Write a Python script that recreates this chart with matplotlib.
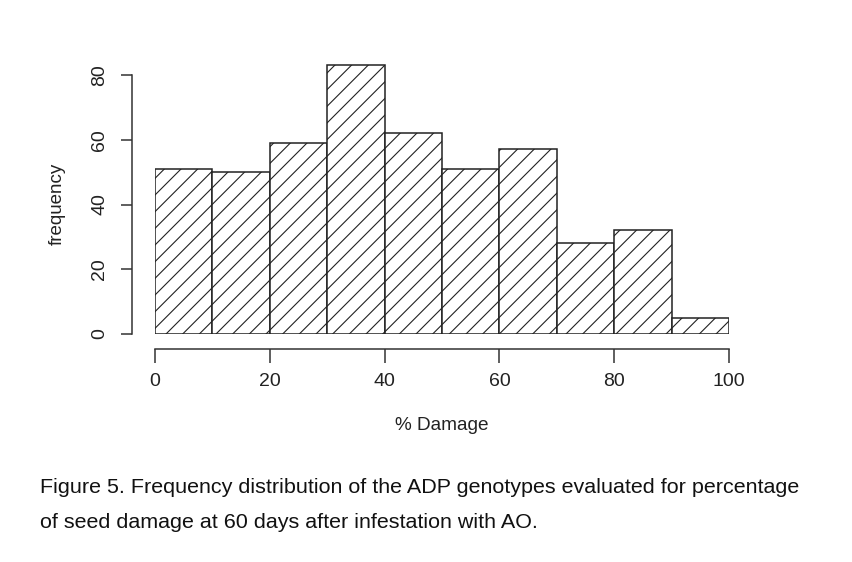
import matplotlib
matplotlib.use("Agg")
import matplotlib.pyplot as plt

plt.rcParams['font.family'] = ['Liberation Sans', 'DejaVu Sans']
plt.rcParams['hatch.linewidth'] = 0.8

bin_edges = [0, 10, 20, 30, 40, 50, 60, 70, 80, 90, 100]
counts = [51, 50, 59, 83, 62, 51, 57, 28, 32, 5]
x_ticks = [0, 20, 40, 60, 80, 100]
y_ticks = [0, 20, 40, 60, 80]
x_label = "% Damage"
y_label = "frequency"
caption_lines = [
    "Figure 5. Frequency distribution of the ADP genotypes evaluated for percentage",
    "of seed damage at 60 days after infestation with AO.",
]

W, H = 852, 562
fig = plt.figure(figsize=(W / 100, H / 100), dpi=100)

# pixel mapping
x0_px, x100_px = 155, 729
y0_px, y80_px = 334, 75
ppu_y = (y0_px - y80_px) / 80.0
ymax = 90
ax = fig.add_axes([x0_px / W, (H - y0_px) / H,
                   (x100_px - x0_px) / W, ymax * ppu_y / H])
ax.set_xlim(0, 100)
ax.set_ylim(0, ymax)

widths = [bin_edges[i + 1] - bin_edges[i] for i in range(len(counts))]
ax.bar(bin_edges[:-1], counts, width=widths, align='edge',
       facecolor='white', edgecolor='#222222', linewidth=1.1, hatch='//')

for s in ['top', 'right']:
    ax.spines[s].set_visible(False)
ax.spines['left'].set_bounds(0, 80)
ax.spines['bottom'].set_bounds(0, 100)
ax.spines['left'].set_position(('outward', 23.3 * 0.72))
ax.spines['bottom'].set_position(('outward', 15 * 0.72))
for s in ['left', 'bottom']:
    ax.spines[s].set_color('#333333')
    ax.spines[s].set_linewidth(1.1)

ax.set_xticks(x_ticks)
ax.set_yticks(y_ticks)
ax.set_xticklabels([str(v) for v in x_ticks], fontsize=14, color='#222222')
ax.set_yticklabels([str(v) for v in y_ticks], fontsize=14, color='#222222',
                   rotation=90, va='center')
ax.tick_params(axis='x', length=10, width=1.1, color='#333333', pad=7)
ax.tick_params(axis='y', length=8, width=1.1, color='#333333', pad=9)

fig.text((x0_px + x100_px) / 2 / W, 1 - 426 / H, x_label, fontsize=13.7,
         ha='center', va='center', color='#222222')
fig.text(57 / W, 1 - 204 / H, y_label, fontsize=13.5, rotation=90,
         ha='center', va='center', color='#222222')

fig.text(40 / W, 1 - 493 / H, caption_lines[0], fontsize=15.45,
         ha='left', va='baseline', color='#111111')
fig.text(40 / W, 1 - 528 / H, caption_lines[1], fontsize=15.45,
         ha='left', va='baseline', color='#111111')

fig.savefig("out.png", dpi=100)
